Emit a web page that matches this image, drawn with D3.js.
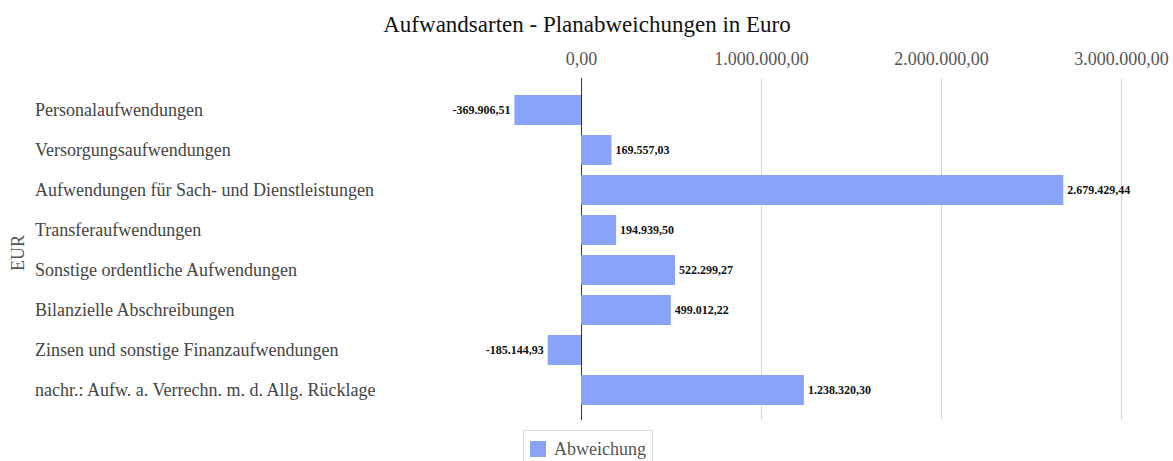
<!DOCTYPE html>
<html>
<head>
<meta charset="utf-8">
<script src="https://cdn.jsdelivr.net/npm/d3@7"></script>
<style>
  body { margin: 0; background: #fff; }
</style>
</head>
<body>
<svg id="chart" width="1173" height="461" font-family="'Liberation Serif', 'Times New Roman', Times, serif"></svg>
<script>
var categories = [
    "Personalaufwendungen",
    "Versorgungsaufwendungen",
    "Aufwendungen für Sach- und Dienstleistungen",
    "Transferaufwendungen",
    "Sonstige ordentliche Aufwendungen",
    "Bilanzielle Abschreibungen",
    "Zinsen und sonstige Finanzaufwendungen",
    "nachr.: Aufw. a. Verrechn. m. d. Allg. Rücklage"
];
var values = [-369906.51, 169557.03, 2679429.44, 194939.50, 522299.27, 499012.22, -185144.93, 1238320.30];
var tickValues = [0, 1000000, 2000000, 3000000];
var seriesName = "Abweichung";

var locale = d3.formatLocale({decimal: ",", thousands: ".", grouping: [3], currency: ["", " €"], minus: "-"});
var fmt = locale.format(",.2f");

var svg = d3.select("#chart");
var barColor = "#89a3f8";

var x = d3.scaleLinear().domain([0, 3000000]).range([581, 1121]);
var y = d3.scaleBand().domain(categories).range([80, 420]).paddingInner(0.25).paddingOuter(0.375);

// title
svg.append("text")
    .attr("x", 587)
    .attr("y", 32)
    .attr("text-anchor", "middle")
    .attr("font-size", 23)
    .attr("fill", "#111")
    .text("Aufwandsarten - Planabweichungen in Euro");

// gridlines
svg.append("g").selectAll("line").data(tickValues).enter()
    .append("line")
    .attr("x1", function(d){ return x(d); })
    .attr("x2", function(d){ return x(d); })
    .attr("y1", 78)
    .attr("y2", 420)
    .attr("stroke", function(d){ return d === 0 ? "#333" : "#d6d6d6"; })
    .attr("stroke-width", 1)
    .attr("shape-rendering", "crispEdges");

// top axis labels
var axis = d3.axisTop(x).tickValues(tickValues).tickFormat(fmt).tickSize(0);
var axisG = svg.append("g").attr("transform", "translate(0,68)").call(axis);
axisG.attr("font-family", null);
axisG.select(".domain").remove();
axisG.selectAll("text")
    .attr("font-size", 18)
    .attr("fill", "#555");

// bars
svg.append("g").selectAll("rect").data(values).enter()
    .append("rect")
    .attr("x", function(d){ return x(Math.min(0, d)); })
    .attr("y", function(d, i){ return y(categories[i]); })
    .attr("width", function(d){ return Math.abs(x(d) - x(0)); })
    .attr("height", y.bandwidth())
    .attr("fill", barColor);

// value labels
svg.append("g").selectAll("text").data(values).enter()
    .append("text")
    .attr("x", function(d){ return d < 0 ? x(d) - 4 : x(d) + 4; })
    .attr("y", function(d, i){ return y(categories[i]) + y.bandwidth() / 2; })
    .attr("dy", "0.35em")
    .attr("text-anchor", function(d){ return d < 0 ? "end" : "start"; })
    .attr("font-size", 12)
    .attr("font-weight", "bold")
    .attr("fill", "#111")
    .text(function(d){ return fmt(d); });

// category labels
svg.append("g").selectAll("text").data(categories).enter()
    .append("text")
    .attr("x", 35)
    .attr("y", function(d){ return y(d) + y.bandwidth() / 2; })
    .attr("dy", "0.35em")
    .attr("font-size", 18)
    .attr("fill", "#444")
    .text(function(d){ return d; });

// y axis title
svg.append("text")
    .attr("transform", "translate(24,253) rotate(-90)")
    .attr("text-anchor", "middle")
    .attr("font-size", 18)
    .attr("fill", "#555")
    .text("EUR");

// legend
var legend = svg.append("g").attr("transform", "translate(523,430)");
legend.append("rect")
    .attr("x", 0.5).attr("y", 0.5)
    .attr("width", 129).attr("height", 40)
    .attr("fill", "#fff")
    .attr("stroke", "#ddd");
legend.append("rect")
    .attr("x", 7).attr("y", 11)
    .attr("width", 16).attr("height", 16)
    .attr("fill", barColor);
legend.append("text")
    .attr("x", 31).attr("y", 19)
    .attr("dy", "0.35em")
    .attr("font-size", 18)
    .attr("fill", "#555")
    .text(seriesName);
</script>
</body>
</html>
